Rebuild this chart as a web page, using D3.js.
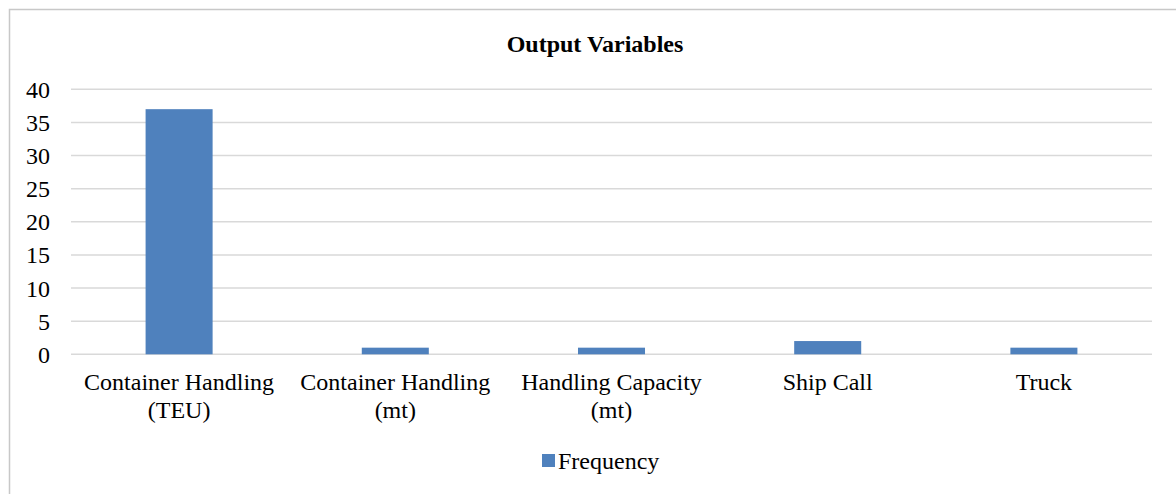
<!DOCTYPE html>
<html>
<head>
<meta charset="utf-8">
<script src="https://cdn.jsdelivr.net/npm/d3@7"></script>
<style>
  body { margin: 0; background: #fff; }
  svg { display: block; font-family: "Liberation Serif", "Times New Roman", serif; }
</style>
</head>
<body>
<svg id="chart" width="1176" height="494"></svg>
<script>
const categories = [
  ['Container Handling', '(TEU)'],
  ['Container Handling', '(mt)'],
  ['Handling Capacity', '(mt)'],
  ['Ship Call'],
  ['Truck']
];
const frequency = [37, 1, 1, 2, 1];
const yTicks = [0, 5, 10, 15, 20, 25, 30, 35, 40];

const svg = d3.select('#chart');
const plot = { left: 71, right: 1152, top: 89.3, bottom: 354.3 };

// outer frame
svg.append('rect')
  .attr('x', 9.5).attr('y', 9.5)
  .attr('width', 1180).attr('height', 500)
  .attr('fill', 'none')
  .attr('stroke', '#c8c8c8')
  .attr('stroke-width', 1.5);

svg.append('text')
  .attr('x', 595).attr('y', 52)
  .attr('text-anchor', 'middle')
  .attr('font-size', 24)
  .attr('font-weight', 'bold')
  .text('Output Variables');

const x = d3.scaleBand()
  .domain(d3.range(categories.length))
  .range([plot.left, plot.right])
  .paddingInner(0.69)
  .paddingOuter(0.345);

const xOuter = d3.scaleBand()
  .domain(d3.range(categories.length))
  .range([plot.left, plot.right]);

const y = d3.scaleLinear().domain([0, 40]).range([plot.bottom, plot.top]);

// gridlines
svg.append('g')
  .selectAll('line')
  .data(yTicks)
  .join('line')
  .attr('x1', plot.left).attr('x2', plot.right)
  .attr('y1', (d) => y(d)).attr('y2', (d) => y(d))
  .attr('stroke', '#d9d9d9')
  .attr('stroke-width', 1.5);

// y labels
svg.append('g')
  .selectAll('text')
  .data(yTicks)
  .join('text')
  .attr('x', 50)
  .attr('y', (d) => y(d) + 8.5)
  .attr('text-anchor', 'end')
  .attr('font-size', 24)
  .attr('fill', '#000')
  .text((d) => d);

// bars
svg.append('g')
  .selectAll('rect')
  .data(frequency)
  .join('rect')
  .attr('x', (d, i) => x(i))
  .attr('width', x.bandwidth())
  .attr('y', (d) => y(d))
  .attr('height', (d) => y(0) - y(d))
  .attr('fill', '#4f81bd');

// category labels
const cat = svg.append('g')
  .selectAll('text')
  .data(categories)
  .join('text')
  .attr('text-anchor', 'middle')
  .attr('font-size', 24)
  .attr('fill', '#000');

cat.selectAll('tspan')
  .data((d, i) => d.map((line) => ({ line, i })))
  .join('tspan')
  .attr('x', (d) => xOuter(d.i) + xOuter.bandwidth() / 2)
  .attr('y', (d, j) => 390 + j * 27.5)
  .text((d) => d.line);

// legend
svg.append('rect')
  .attr('x', 542).attr('y', 454)
  .attr('width', 13).attr('height', 13)
  .attr('fill', '#4f81bd');
svg.append('text')
  .attr('x', 558).attr('y', 469)
  .attr('font-size', 24)
  .text('Frequency');
</script>
</body>
</html>
